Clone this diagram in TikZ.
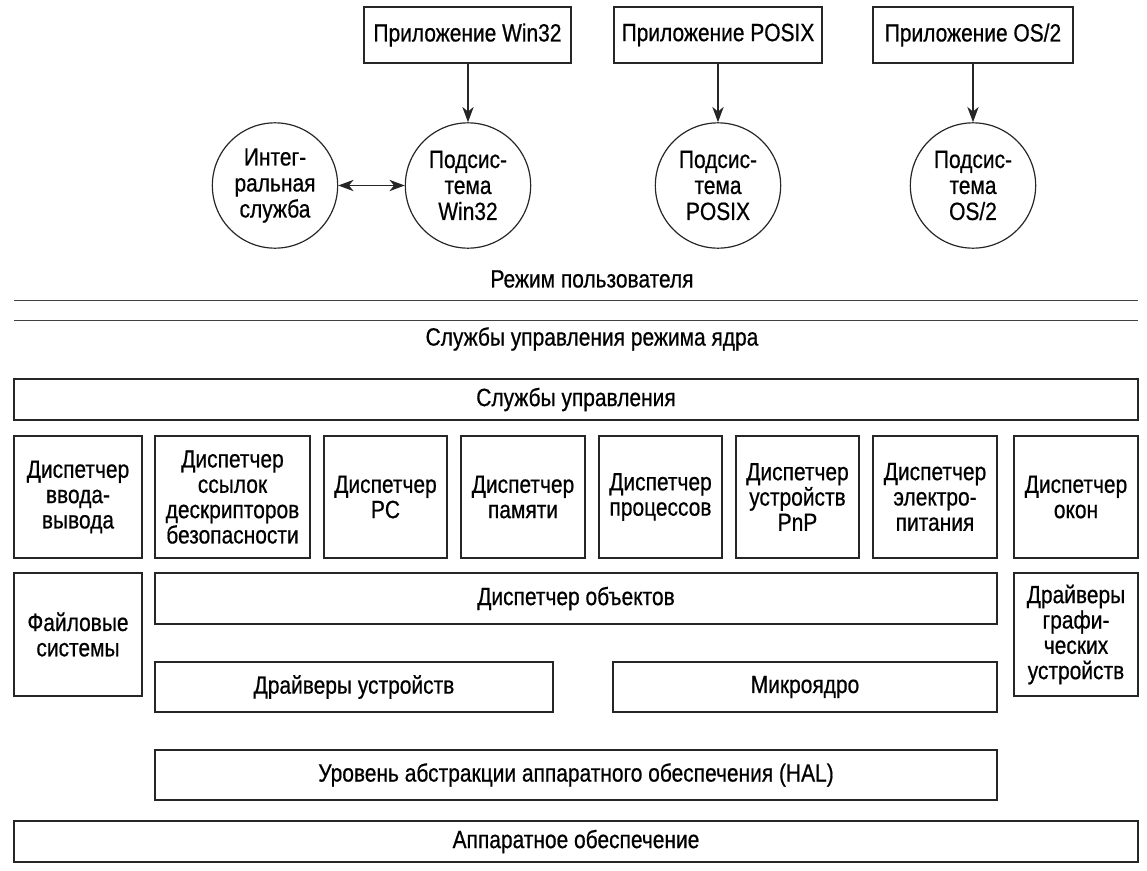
\documentclass[tikz,border=0pt]{standalone}
\usepackage{fontspec}
\setmainfont{Liberation Sans}[FakeStretch=0.84,FakeBold=0.6]
\usetikzlibrary{arrows.meta,fit}
\begin{document}
\begin{tikzpicture}[x=0.75pt,y=-0.75pt,
  every node/.style={font=\fontsize{18.7}{19}\selectfont, align=center, text=black},
  box/.style={draw=black!85, line width=0.9pt, inner sep=0pt},
  txt/.style={inner sep=0pt},
  circ/.style={draw=black!85, line width=0.9pt, circle, inner sep=0pt, minimum size=94pt,
               font=\fontsize{18.7}{19.5}\selectfont},
  arr/.style={draw=black!85, line width=0.9pt, -{Stealth[length=11.5pt,width=8.5pt,inset=3.5pt]}},
  darr/.style={draw=black!85, line width=0.9pt, {Stealth[length=11.5pt,width=8.5pt,inset=3.5pt]}-{Stealth[length=11.5pt,width=8.5pt,inset=3.5pt]}},
  sep/.style={draw=black!75, line width=0.9pt}
]
\useasboundingbox (0,0) rectangle (1147,871);

% applications
\node[box, fit={(364,7) (571,63)}] (appw) {};
\node[txt] (appw-t) at (appw.center) {Приложение Win32};
\node[box, fit={(614,7) (822,63)}] (appp) {};
\node[txt] (appp-t) at (appp.center) {Приложение POSIX};
\node[box, fit={(873,7) (1073,63)}] (appo) {};
\node[txt] (appo-t) at (appo.center) {Приложение OS/2};

% subsystems
\node[circ] (integ) at (275,185.5) {Интег-\\ральная\\служба};
\node[circ] (subw) at (468,185.5) {Подсис-\\тема\\Win32};
\node[circ] (subp) at (718,185.5) {Подсис-\\тема\\POSIX};
\node[circ] (subo) at (973,185.5) {Подсис-\\тема\\OS/2};

\draw[arr] (appw.south -| subw.north) -- (subw.north);
\draw[arr] (appp.south -| subp.north) -- (subp.north);
\draw[arr] (appo.south -| subo.north) -- (subo.north);
\draw[darr] (integ) -- (subw);

% mode separation
\node (umode) at (592,279) {Режим пользователя};
\draw[sep] (14,300.5) -- (1138,300.5);
\draw[sep] (14,320.5) -- (1138,320.5);
\node (kmode) at (592,339) {Службы управления режима ядра};

% kernel
\node[box, fit={(14,379) (1138,420)}] (exec) {};
\node[txt] (exec-t) at (exec.center) {Службы управления};

\node[box, fit={(14,436) (142,558)}] (io) {};
\node[txt] (io-t) at (io.center) {Диспетчер\\ввода-\\вывода};
\node[box, fit={(155,436) (310,558)}] (srm) {};
\node[txt] (srm-t) at (srm.center) {Диспетчер\\ссылок\\дескрипторов\\безопасности};
\node[box, fit={(324,436) (447,558)}] (ipc) {};
\node[txt] (ipc-t) at (ipc.center) {Диспетчер\\PC};
\node[box, fit={(461,436) (585,558)}] (mem) {};
\node[txt] (mem-t) at (mem.center) {Диспетчер\\памяти};
\node[box, fit={(599,436) (722,558)}] (proc) {};
\node[txt] (proc-t) at (proc.center) {Диспетчер\\процессов};
\node[box, fit={(736,436) (859,558)}] (pnp) {};
\node[txt] (pnp-t) at (pnp.center) {Диспетчер\\устройств\\PnP};
\node[box, fit={(873,436) (997,558)}] (pwr) {};
\node[txt] (pwr-t) at (pwr.center) {Диспетчер\\электро-\\питания};
\node[box, fit={(1014,436) (1138,558)}] (win) {};
\node[txt] (win-t) at (win.center) {Диспетчер\\окон};

\node[box, fit={(14,573) (142,696)}] (fs) {};
\node[txt] (fs-t) at (fs.center) {Файловые\\системы};
\node[box, fit={(155,573) (997,624)}] (obj) {};
\node[txt] (obj-t) at (obj.center) {Диспетчер объектов};
\node[box, fit={(155,662) (553,712)}] (drv) {};
\node[txt] (drv-t) at (drv.center) {Драйверы устройств};
\node[box, fit={(613,662) (997,712)}] (micro) {};
\node[txt] (micro-t) at (micro.center) {Микроядро};
\node[box, fit={(1014,573) (1138,696)}] (gdrv) {};
\node[txt] (gdrv-t) at (gdrv.center) {Драйверы\\графи-\\ческих\\устройств};

\node[box, fit={(155,750) (997,800)}] (hal) {};
\node[txt] (hal-t) at (hal.center) {Уровень абстракции аппаратного обеспечения (HAL)};
\node[box, fit={(14,821) (1138,862)}] (hw) {};
\node[txt] (hw-t) at (hw.center) {Аппаратное обеспечение};
\end{tikzpicture}
\end{document}
